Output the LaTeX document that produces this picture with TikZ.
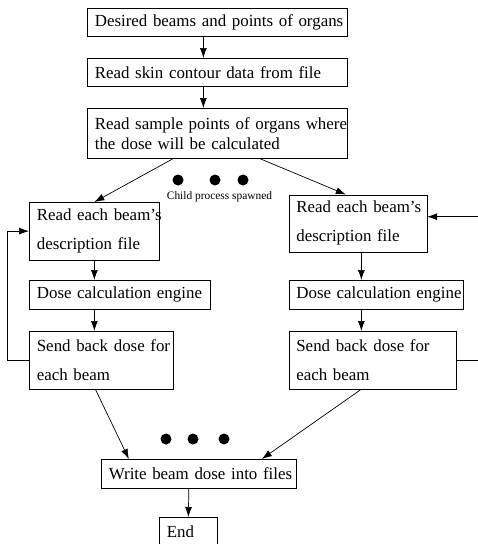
\documentclass[tikz,border=0pt]{standalone}
\usepackage{fontspec}
\setmainfont{Liberation Serif}
\usepackage{tikz}
\usetikzlibrary{arrows.meta,positioning,calc}

\begin{document}
\begin{tikzpicture}[x=1pt, y=-1pt, >={Latex[length=10pt,width=7pt]},
  line width=0.7pt,
  font=\fontsize{16.9}{20}\selectfont,
  box/.style={draw, rectangle, anchor=north west, align=left, inner xsep=7.5pt, inner ysep=0pt},
  wide/.style={box, font=\fontsize{16.9}{29}\selectfont},
  dot/.style={fill=black}]
\useasboundingbox (0,0) rectangle (478,544);
% main flow
\node[box, text width=245pt, minimum height=28pt] (desired) at (87,8)   {\mbox{Desired beams and points of organs}};
\node[box, text width=245pt, minimum height=28pt] (skin)    at (87,58)  {\mbox{Read skin contour data from file}};
\node[box, text width=245pt, minimum height=50pt] (sample)  at (87,108) {\mbox{Read sample points of organs where}\\\mbox{the dose will be calculated}};
% left child
\node[wide, text width=115pt, minimum height=57.5pt] (readL) at (29,202)  {\mbox{Read each beam's}\\\mbox{description file}};
\node[box,  text width=166pt, minimum height=29pt]   (doseL) at (29,280)  {\mbox{Dose calculation engine}};
\node[wide, text width=129pt, minimum height=57.5pt] (sendL) at (29,331)  {\mbox{Send back dose for}\\\mbox{each beam}};
% right child
\node[wide, text width=123pt, minimum height=57pt]   (readR) at (288.5,194.5) {\mbox{Read each beam's}\\\mbox{description file}};
\node[box,  text width=159pt, minimum height=29pt]   (doseR) at (288.5,280)   {\mbox{Dose calculation engine}};
\node[wide, text width=152pt, minimum height=57.5pt] (sendR) at (288.5,331)   {\mbox{Send back dose for}\\\mbox{each beam}};
% end
\node[box, text width=180pt, minimum height=29pt] (write) at (101,459) {\mbox{Write beam dose into files}};
\node[box, text width=43pt, minimum height=29pt]  (stop)  at (159,517) {End};
\node[font=\fontsize{11.4}{13}\selectfont] (spawn) at (219.5,197) {Child process spawned};
\coordinate (inR)  at (478,216.7);
\coordinate (outR) at (478,359.5);

\foreach \x in {178,215,243} \fill[dot] (\x,180) circle (5.5);
\foreach \x in {166,193,224} \fill[dot] (\x,439) circle (5.5);

\draw[->] ([xshift=-14pt]desired.south) -- ([xshift=-14pt]skin.north);
\draw[->] ([xshift=-14pt]skin.south) -- ([xshift=-14pt]sample.north);
\draw[->] ([xshift=86pt]sample.south west) -- (readL.north);
\draw[->] ([xshift=173pt]sample.south west) -- ([xshift=-12pt]readR.north);

\draw[->] (readL.south) -- (readL.south |- doseL.north);
\draw[->] (readL.south |- doseL.south) -- (readL.south |- sendL.north);
\draw[->] (sendL.west) -- ++(-22,0) |- (readL.west);

\draw[->] ([xshift=3.5pt]readR.south) -- ([xshift=3.5pt]readR.south |- doseR.north);
\draw[->] ([xshift=3.5pt]readR.south |- doseR.south) -- ([xshift=3.5pt]readR.south |- sendR.north);
\draw[->] (inR) -- (inR -| readR.east);
\draw (sendR.east) -- (sendR.east -| outR);

\draw[->] ([xshift=-6pt]sendL.south) -- ([xshift=-70pt]write.north);
\draw[->] ([xshift=-11pt]sendR.south) -- ([xshift=63pt]write.north);
\draw[->] ([xshift=-10pt]write.south) -- (stop.north);
\end{tikzpicture}
\end{document}
